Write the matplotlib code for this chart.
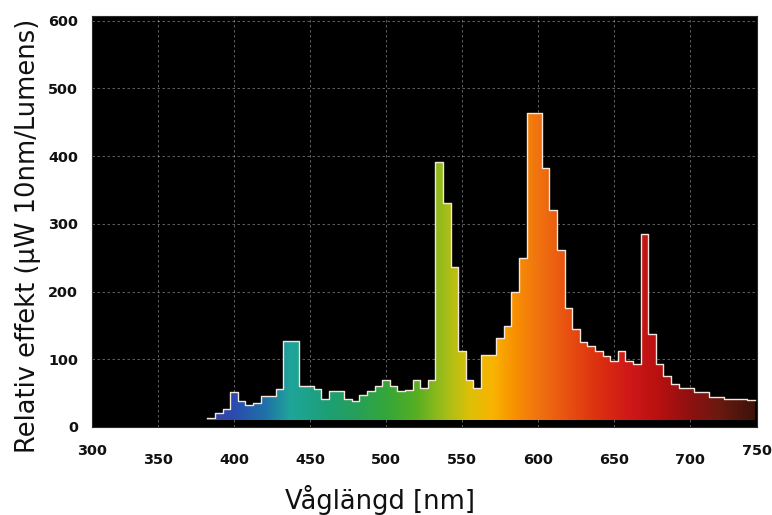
import numpy as np
import matplotlib.pyplot as plt
from matplotlib.colors import LinearSegmentedColormap

# Spectrum bins (nm, bin centres) and relative power per bin
wavelength_nm = [
    385, 390, 395, 400, 405, 410, 415, 420, 425, 430,
    435, 440, 445, 450, 455, 460, 465, 470, 475, 480,
    485, 490, 495, 500, 505, 510, 515, 520, 525, 530,
    535, 540, 545, 550, 555, 560, 565, 570, 575, 580,
    585, 590, 595, 600, 605, 610, 615, 620, 625, 630,
    635, 640, 645, 650, 655, 660, 665, 670, 675, 680,
    685, 690, 695, 700, 705, 710, 715, 720, 725, 730,
    735, 740,
]
rel_power = [
    14, 21, 27, 52, 38, 32, 36, 46, 46, 56,
    127, 127, 61, 61, 56, 41, 53, 53, 41, 38,
    47, 53, 61, 69, 61, 53, 55, 70, 57, 70,
    392, 331, 236, 112, 70, 58, 107, 107, 132, 149,
    199, 250, 464, 464, 383, 321, 262, 176, 144, 125,
    120, 112, 105, 97, 112, 97, 93, 285, 137, 93,
    75, 63, 58, 58, 51, 51, 45, 45, 41, 41,
    41, 40,
]
x_ticks = [350, 400, 450, 500, 550, 600, 650, 700]
x_edge_labels = ["300", "750"]
y_ticks = [0, 100, 200, 300, 400, 500, 600]

BIN = 5.0
BASE = 10.0
X_RANGE = (306.6, 744.1)
Y_RANGE = (0, 607)

# colour ramp along the wavelength axis
spectrum_stops = [
    (370, "#4a3a90"), (400, "#2a4cb0"), (420, "#2070a8"), (437, "#1fa59a"),
    (460, "#1c9f78"), (480, "#26a05a"), (500, "#34a63a"), (520, "#56ae22"),
    (540, "#a6be18"), (555, "#dcc008"), (570, "#f8b400"), (585, "#f89000"),
    (600, "#f07410"), (620, "#e85010"), (640, "#dc3010"), (660, "#d01818"),
    (680, "#b81010"), (700, "#901010"), (720, "#6a1a10"), (750, "#301008"),
]

wl = np.asarray(wavelength_nm, dtype=float)
pw = np.asarray(rel_power, dtype=float)

fig = plt.figure(figsize=(7.72, 5.15), dpi=100)
ax = fig.add_axes([92 / 772, 88 / 515, 665 / 772, 411 / 515])
ax.set_facecolor("black")

# grid behind the spectrum
ax.set_axisbelow(True)
ax.grid(True, color="#c8c8c8", lw=0.6, ls=(0, (3, 3)), alpha=0.55)

# stepped histogram outline
edges = np.concatenate([wl - BIN / 2, [wl[-1] + BIN / 2]])
step_y = np.concatenate([pw, [pw[-1]]])
fill = ax.fill_between(edges, BASE, step_y, step="post", color="none", lw=0)

lo, hi = spectrum_stops[0][0], spectrum_stops[-1][0]
cmap = LinearSegmentedColormap.from_list(
    "spec", [((w - lo) / (hi - lo), c) for w, c in spectrum_stops])
grad = np.linspace(0, 1, 512).reshape(1, -1)
img = ax.imshow(grad, cmap=cmap, aspect="auto", extent=[lo, hi, BASE, 607],
                origin="lower", zorder=2, interpolation="bilinear")
img.set_clip_path(fill.get_paths()[0], transform=ax.transData)

ax.step(edges, step_y, where="post", color="#f4e6dc", lw=1.0, zorder=3)

ax.set_xlim(*X_RANGE)
ax.set_ylim(*Y_RANGE)

for s in ax.spines.values():
    s.set_color("#2a2a2a")
    s.set_linewidth(0.8)

tick_font = dict(family="DejaVu Sans", weight="bold", size=10.4,
                 color="#111111")
ax.set_xticks(x_ticks)
ax.set_yticks(y_ticks)
ax.tick_params(length=0)
ax.tick_params(axis="x", pad=19)
ax.tick_params(axis="y", pad=10)
for lbl in ax.get_xticklabels() + ax.get_yticklabels():
    lbl.set(**tick_font)

# the end labels sit at the frame edges
for xa, txt in zip([0.0, 1.0], x_edge_labels):
    ax.text(xa, -0.058, txt, transform=ax.transAxes, ha="center", va="center",
            **tick_font)

ax.set_ylabel("Relativ effekt (\u00b5W 10nm/Lumens)", fontsize=18.5,
              family="DejaVu Sans", color="#111111")
ax.yaxis.set_label_coords(-0.076, 0.465)
ax.set_xlabel("V\u00e5gl\u00e4ngd [nm]", fontsize=18.5, family="DejaVu Sans",
              color="#111111")
ax.xaxis.set_label_coords(0.433, -0.142)

fig.savefig("out.png", dpi=100, facecolor="white")
